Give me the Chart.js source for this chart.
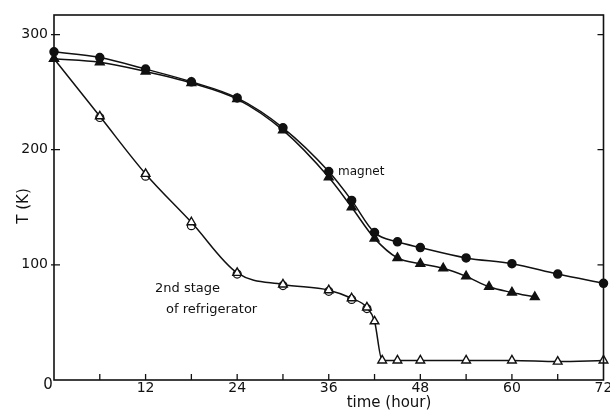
<!DOCTYPE html>
<html>
<head>
<meta charset="utf-8">
<script src="https://cdn.jsdelivr.net/npm/chart.js@4/dist/chart.umd.min.js"></script>
<style>
  html, body { margin: 0; padding: 0; background: #fff; }
  #wrap { width: 610px; height: 412px; }
</style>
</head>
<body>
<div id="wrap"><canvas id="c"></canvas></div>
<script>
// cool-down data
const magnetCircleHours = [0, 6, 12, 18, 24, 30, 36, 39, 42, 45, 48, 54, 60, 66, 72];
const magnetCircleT = [285, 280, 270, 259, 245, 219, 181, 156, 128, 120, 115, 106, 101, 92, 84];

const magnetTriHours = [0, 6, 12, 18, 24, 30, 36, 39, 42, 45, 48, 51, 54, 57, 60, 63];
const magnetTriT = [279, 276, 268, 258, 244, 217, 176, 150, 123, 106, 101, 97, 90, 81, 76, 72];

const fridgeTriHours = [0, 6, 12, 18, 24, 30, 36, 39, 41, 42, 43, 45, 48, 54, 60, 66, 72];
const fridgeTriT = [279, 229, 179, 137, 93, 83, 78, 71, 63, 51, 17, 17, 17, 17, 17, 16, 17];

const fridgeCircleHours = [6, 12, 18, 24, 30, 36, 39, 41];
const fridgeCircleT = [228, 177, 134, 92, 82, 77, 70, 62];

const xLabels = [12, 24, 36, 48, 60, 72];
const yLabels = [100, 200, 300];

const FONT = '"DejaVu Sans", sans-serif';
const pts = (xs, ys) => xs.map((x, i) => ({ x: x, y: ys[i] }));

// frame, inward ticks and free text
const decor = {
  id: 'decor',
  afterDraw(chart) {
    const { ctx, chartArea: a, scales: { x, y } } = chart;
    ctx.save();
    ctx.strokeStyle = '#111';
    ctx.lineWidth = 1.6;
    ctx.strokeRect(a.left, a.top, a.right - a.left, a.bottom - a.top);

    ctx.lineWidth = 1.3;
    ctx.beginPath();
    for (let h = 6; h < 72; h += 6) {
      const px = x.getPixelForValue(h);
      ctx.moveTo(px, a.bottom);
      ctx.lineTo(px, a.bottom - 6);
    }
    yLabels.forEach(v => {
      const py = y.getPixelForValue(v);
      ctx.moveTo(a.left - 3, py);
      ctx.lineTo(a.left + 6, py);
      ctx.moveTo(a.right, py);
      ctx.lineTo(a.right - 6, py);
    });
    ctx.stroke();

    ctx.fillStyle = '#111';
    ctx.textBaseline = 'middle';
    ctx.textAlign = 'center';
    ctx.font = '15px ' + FONT;
    ctx.fillText('0', a.left - 6, a.bottom + 5);
    ctx.fillText('time (hour)', 389, 403);

    ctx.textAlign = 'left';
    ctx.font = '12px ' + FONT;
    ctx.fillText('magnet', 338, 172);
    ctx.font = '13px ' + FONT;
    ctx.fillText('2nd stage', 155, 289);
    ctx.fillText('of refrigerator', 166, 310);

    ctx.translate(24, 206);
    ctx.rotate(-Math.PI / 2);
    ctx.textAlign = 'center';
    ctx.font = '15px ' + FONT;
    ctx.fillText('T (K)', 0, 0);
    ctx.restore();
  }
};

const line = {
  borderColor: '#111',
  borderWidth: 1.5,
  cubicInterpolationMode: 'monotone',
  clip: false
};

new Chart(document.getElementById('c'), {
  type: 'line',
  data: {
    datasets: [
      Object.assign({}, line, {
        label: 'magnet (circle)',
        data: pts(magnetCircleHours, magnetCircleT),
        pointStyle: 'circle', pointRadius: 4,
        pointBackgroundColor: '#111', pointBorderColor: '#111'
      }),
      Object.assign({}, line, {
        label: 'magnet (triangle)',
        data: pts(magnetTriHours, magnetTriT),
        pointStyle: 'triangle', pointRadius: 5,
        pointBackgroundColor: '#111', pointBorderColor: '#111'
      }),
      Object.assign({}, line, {
        label: '2nd stage (triangle)',
        data: pts(fridgeTriHours, fridgeTriT),
        pointStyle: 'triangle', pointRadius: 5, pointBorderWidth: 1.4,
        pointBackgroundColor: '#fff', pointBorderColor: '#111'
      }),
      Object.assign({}, line, {
        label: '2nd stage (circle)',
        data: pts(fridgeCircleHours, fridgeCircleT),
        showLine: false,
        pointStyle: 'circle', pointRadius: 4, pointBorderWidth: 1.2,
        pointBackgroundColor: 'rgba(255,255,255,0)', pointBorderColor: '#111'
      })
    ]
  },
  options: {
    responsive: true,
    maintainAspectRatio: false,
    animation: false,
    layout: { padding: { top: 15, right: 6, left: 0, bottom: 0 } },
    plugins: { legend: { display: false }, tooltip: { enabled: false } },
    scales: {
      x: {
        type: 'linear', min: 0, max: 72,
        afterFit: s => { s.height = 32; s.paddingLeft = 0; s.paddingRight = 0; },
        grid: { display: false, drawTicks: false },
        border: { display: false },
        ticks: {
          stepSize: 6, autoSkip: false, maxRotation: 0, padding: 0,
          color: '#111', font: { family: FONT, size: 14 },
          callback: v => (xLabels.includes(v) ? String(v) : '')
        }
      },
      y: {
        min: 0, max: 317,
        afterFit: s => { s.width = 54; s.paddingTop = 0; s.paddingBottom = 0; },
        afterBuildTicks: s => { s.ticks = yLabels.map(v => ({ value: v })); },
        grid: { display: false, drawTicks: false },
        border: { display: false },
        ticks: {
          padding: 6,
          color: '#111', font: { family: FONT, size: 14 },
          callback: v => String(v)
        }
      }
    }
  },
  plugins: [decor]
});
</script>
</body>
</html>
